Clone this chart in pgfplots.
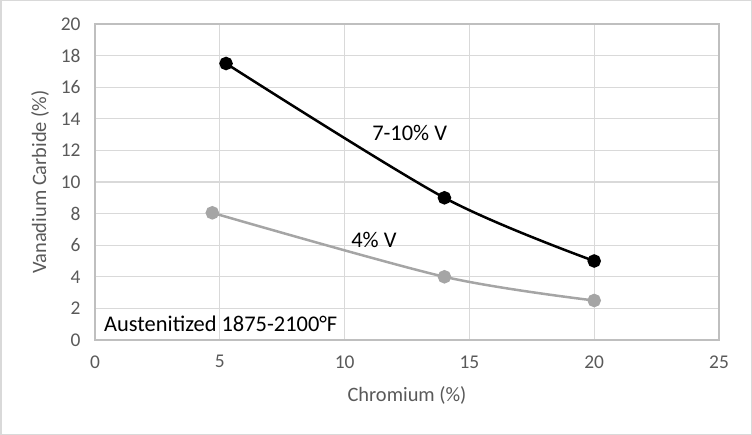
\documentclass[border=0pt]{standalone}
\usepackage{pgfplots}
\pgfplotsset{compat=1.18}
\usepackage{fontspec}
\setmainfont{Carlito}
\definecolor{tickgray}{HTML}{595959}
\definecolor{gridgray}{HTML}{D9D9D9}
\definecolor{axisgray}{HTML}{BFBFBF}
\definecolor{lightser}{HTML}{A5A5A5}
\begin{document}
\begin{tikzpicture}
\useasboundingbox (0,0) rectangle (752bp,435bp);
\draw[gridgray, line width=1.5bp] (0.75bp,0.75bp) rectangle (751.25bp,434.25bp);
\begin{axis}[
    at={(95bp,95bp)}, anchor=south west,
    scale only axis,
    width=624bp, height=316bp,
    xmin=0, xmax=25, ymin=0, ymax=20,
    xtick={0,5,...,25}, ytick={0,2,...,20},
    grid=major,
    major grid style={gridgray, line width=1.2bp},
    axis line style={axisgray, line width=1.2bp},
    tick style={draw=none},
    ticklabel style={font=\fontsize{19.5}{22}\selectfont, text=tickgray},
    /pgf/number format/assume math mode=true,
    xticklabel style={yshift=-12bp},
    yticklabel style={xshift=-11bp},
    xlabel={Chromium (\%)},
    ylabel={Vanadium Carbide (\%)},
    label style={font=\fontsize{20.5}{23}\selectfont, text=tickgray},
    xlabel style={at={(axis description cs:0.5,-0.177)}, anchor=center},
    ylabel style={at={(axis description cs:-0.0881,0.5)}, anchor=center},
]
\addplot[black, line width=2.5bp, smooth, mark=*, mark size=5.5bp] coordinates {
    (5.25,17.5) (14,9) (20,5)
};
\addplot[lightser, line width=2.5bp, smooth, mark=*, mark size=5.5bp] coordinates {
    (4.7,8.05) (14,4) (20,2.5)
};
\node[anchor=west, inner sep=0pt, font=\fontsize{22.5}{25}\selectfont] at (axis cs:11.1,13.1) {7-10\% V};
\node[anchor=west, inner sep=0pt, font=\fontsize{22.5}{25}\selectfont] at (axis cs:10.26,6.33) {4\% V};
\node[anchor=west, inner sep=0pt, font=\fontsize{22.5}{25}\selectfont] at (axis cs:0.36,1.0) {Austenitized 1875-2100°F};
\end{axis}
\end{tikzpicture}
\end{document}
